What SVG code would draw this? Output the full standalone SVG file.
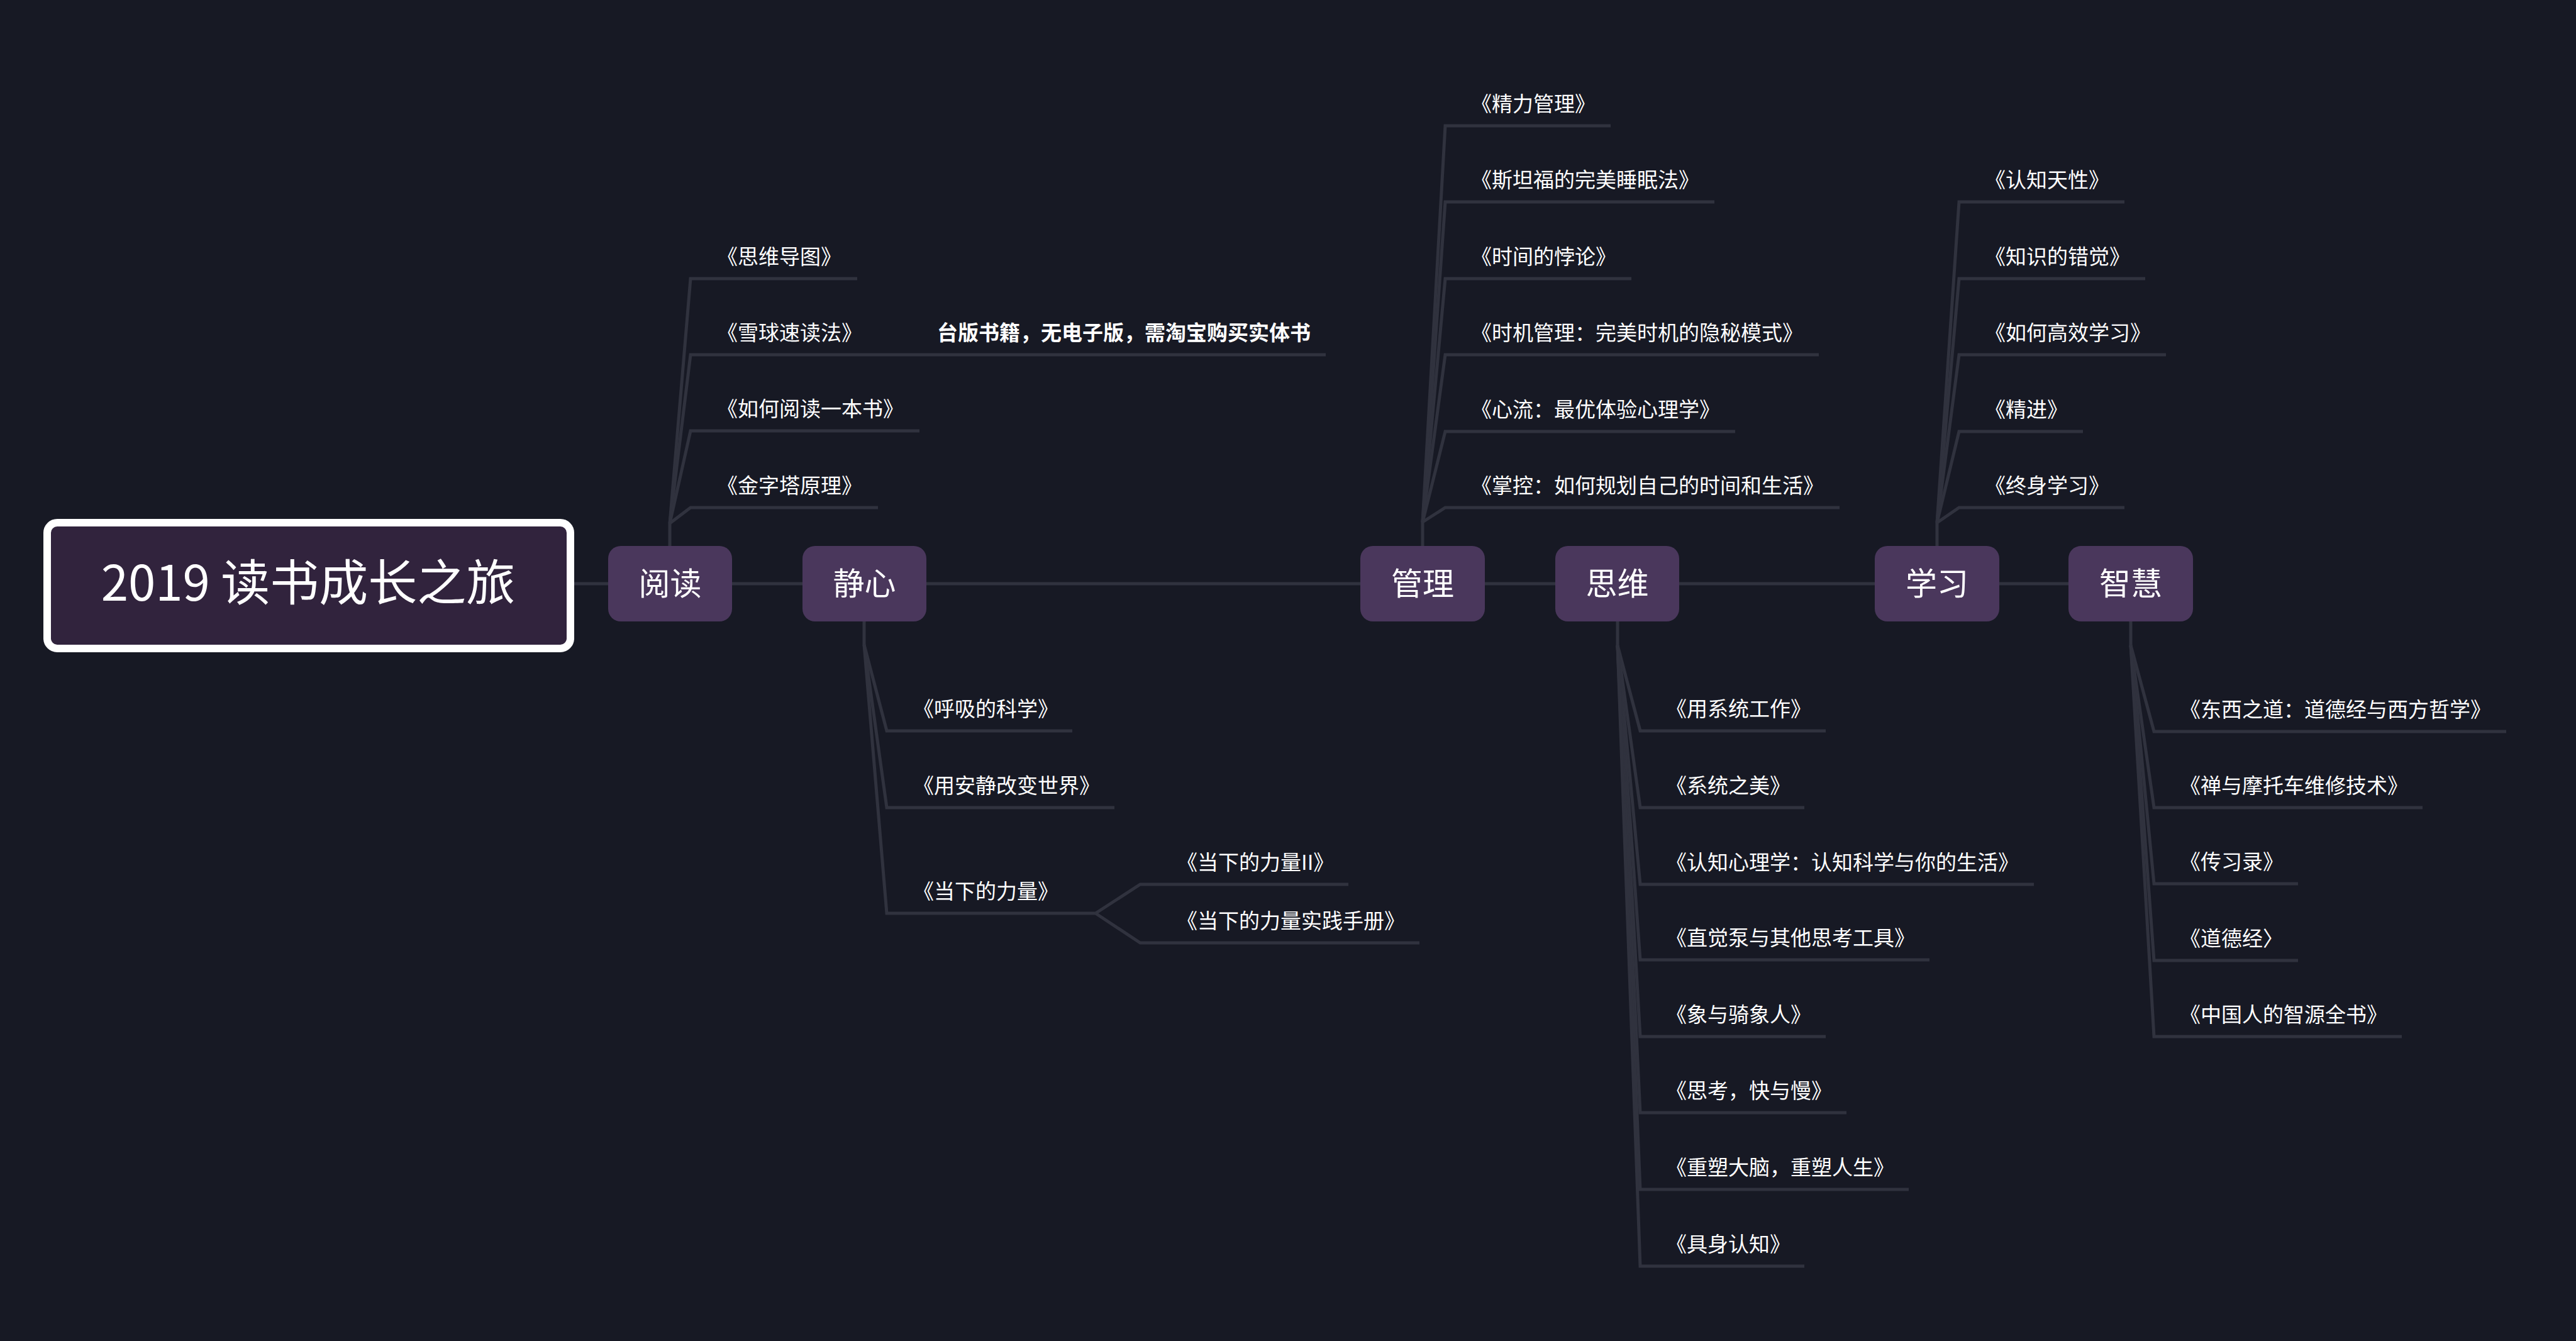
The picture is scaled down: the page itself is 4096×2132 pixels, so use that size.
<svg xmlns="http://www.w3.org/2000/svg" width="4096" height="2132" viewBox="0 0 4096 2132">
<style>
.bg{fill:#171924}
.ln{fill:none;stroke:#30323e;stroke-width:5;stroke-linejoin:miter}
.node{fill:#4a375c}
.root{fill:#31233d;stroke:#ffffff;stroke-width:12}
.t{font-family:"Noto Sans CJK SC","Noto Sans",sans-serif;fill:#ffffff}
.nt{font-size:50px;text-anchor:middle}
.ct{font-size:33px}
.note{font-size:33px;font-weight:bold}
.rt{font-size:78px;text-anchor:middle}
</style>
<rect class="bg" x="0" y="0" width="4096" height="2132"/>
<g id="connectors">
<path class="ln" d="M913,928 H3289"/>
<path class="ln" d="M1065,868 V832"/>
<path class="ln" d="M1065,832 L1098,443 H1363"/>
<path class="ln" d="M1065,832 L1098,564 H2108"/>
<path class="ln" d="M1065,832 L1098,685 H1462"/>
<path class="ln" d="M1065,832 L1098,807 H1396"/>
<path class="ln" d="M1374,988 V1025"/>
<path class="ln" d="M1374,1025 L1410,1162 H1705"/>
<path class="ln" d="M1374,1025 L1410,1284 H1772"/>
<path class="ln" d="M1374,1025 L1410,1452 H1742"/>
<path class="ln" d="M1742,1452 L1813,1406 H2144"/>
<path class="ln" d="M1742,1452 L1813,1499 H2257"/>
<path class="ln" d="M2262,868 V830"/>
<path class="ln" d="M2262,830 L2298,200 H2561"/>
<path class="ln" d="M2262,830 L2298,321 H2726"/>
<path class="ln" d="M2262,830 L2298,443 H2594"/>
<path class="ln" d="M2262,830 L2298,564 H2892"/>
<path class="ln" d="M2262,830 L2298,686 H2759"/>
<path class="ln" d="M2262,830 L2298,807 H2925"/>
<path class="ln" d="M2572,988 V1026"/>
<path class="ln" d="M2572,1026 L2608,1162 H2903"/>
<path class="ln" d="M2572,1026 L2608,1284 H2869"/>
<path class="ln" d="M2572,1026 L2608,1406 H3234"/>
<path class="ln" d="M2572,1026 L2608,1526 H3068"/>
<path class="ln" d="M2572,1026 L2608,1648 H2903"/>
<path class="ln" d="M2572,1026 L2608,1769 H2936"/>
<path class="ln" d="M2572,1026 L2608,1891 H3035"/>
<path class="ln" d="M2572,1026 L2608,2013 H2869"/>
<path class="ln" d="M3080,868 V831"/>
<path class="ln" d="M3080,831 L3115,321 H3378"/>
<path class="ln" d="M3080,831 L3115,443 H3411"/>
<path class="ln" d="M3080,831 L3115,564 H3444"/>
<path class="ln" d="M3080,831 L3115,686 H3312"/>
<path class="ln" d="M3080,831 L3115,807 H3378"/>
<path class="ln" d="M3388,988 V1026"/>
<path class="ln" d="M3388,1026 L3425,1163 H3985"/>
<path class="ln" d="M3388,1026 L3425,1284 H3852"/>
<path class="ln" d="M3388,1026 L3425,1405 H3654"/>
<path class="ln" d="M3388,1026 L3425,1527 H3654"/>
<path class="ln" d="M3388,1026 L3425,1648 H3819"/>
</g>
<g id="root">
<rect class="root" x="75" y="831" width="832" height="200" rx="16"/>
<text class="t rt" x="490" y="955">2019 读书成长之旅</text>
</g>
<g id="n-yuedu">
<rect class="node" x="967" y="868" width="197" height="120" rx="20"/>
<text class="t nt" x="1065.5" y="946">阅读</text>
</g>
<g id="n-jingxin">
<rect class="node" x="1276" y="868" width="197" height="120" rx="20"/>
<text class="t nt" x="1374.5" y="946">静心</text>
</g>
<g id="n-guanli">
<rect class="node" x="2163" y="868" width="198" height="120" rx="20"/>
<text class="t nt" x="2262" y="946">管理</text>
</g>
<g id="n-siwei">
<rect class="node" x="2473" y="868" width="197" height="120" rx="20"/>
<text class="t nt" x="2571.5" y="946">思维</text>
</g>
<g id="n-xuexi">
<rect class="node" x="2981" y="868" width="198" height="120" rx="20"/>
<text class="t nt" x="3080" y="946">学习</text>
</g>
<g id="n-zhihui">
<rect class="node" x="3289" y="868" width="198" height="120" rx="20"/>
<text class="t nt" x="3388" y="946">智慧</text>
</g>
<g id="c-yuedu">
<text class="t ct" x="1140" y="420">《思维导图》</text>
<text class="t ct" x="1140" y="541">《雪球速读法》</text>
<text class="t note" x="1490" y="541">台版书籍，无电子版，需淘宝购买实体书</text>
<text class="t ct" x="1140" y="662">《如何阅读一本书》</text>
<text class="t ct" x="1140" y="784">《金字塔原理》</text>
</g>
<g id="c-jingxin">
<text class="t ct" x="1452" y="1139">《呼吸的科学》</text>
<text class="t ct" x="1452" y="1261">《用安静改变世界》</text>
<text class="t ct" x="1452" y="1429">《当下的力量》</text>
<text class="t ct" x="1871" y="1383">《当下的力量II》</text>
<text class="t ct" x="1871" y="1476">《当下的力量实践手册》</text>
</g>
<g id="c-guanli">
<text class="t ct" x="2339" y="177">《精力管理》</text>
<text class="t ct" x="2339" y="298">《斯坦福的完美睡眠法》</text>
<text class="t ct" x="2339" y="420">《时间的悖论》</text>
<text class="t ct" x="2339" y="541">《时机管理：完美时机的隐秘模式》</text>
<text class="t ct" x="2339" y="663">《心流：最优体验心理学》</text>
<text class="t ct" x="2339" y="784">《掌控：如何规划自己的时间和生活》</text>
</g>
<g id="c-siwei">
<text class="t ct" x="2649" y="1139">《用系统工作》</text>
<text class="t ct" x="2649" y="1261">《系统之美》</text>
<text class="t ct" x="2649" y="1383">《认知心理学：认知科学与你的生活》</text>
<text class="t ct" x="2649" y="1503">《直觉泵与其他思考工具》</text>
<text class="t ct" x="2649" y="1625">《象与骑象人》</text>
<text class="t ct" x="2649" y="1746">《思考，快与慢》</text>
<text class="t ct" x="2649" y="1868">《重塑大脑，重塑人生》</text>
<text class="t ct" x="2649" y="1990">《具身认知》</text>
</g>
<g id="c-xuexi">
<text class="t ct" x="3156" y="298">《认知天性》</text>
<text class="t ct" x="3156" y="420">《知识的错觉》</text>
<text class="t ct" x="3156" y="541">《如何高效学习》</text>
<text class="t ct" x="3156" y="663">《精进》</text>
<text class="t ct" x="3156" y="784">《终身学习》</text>
</g>
<g id="c-zhihui">
<text class="t ct" x="3466" y="1140">《东西之道：道德经与西方哲学》</text>
<text class="t ct" x="3466" y="1261">《禅与摩托车维修技术》</text>
<text class="t ct" x="3466" y="1382">《传习录》</text>
<text class="t ct" x="3466" y="1504">《道德经〉</text>
<text class="t ct" x="3466" y="1625">《中国人的智源全书》</text>
</g>
</svg>
